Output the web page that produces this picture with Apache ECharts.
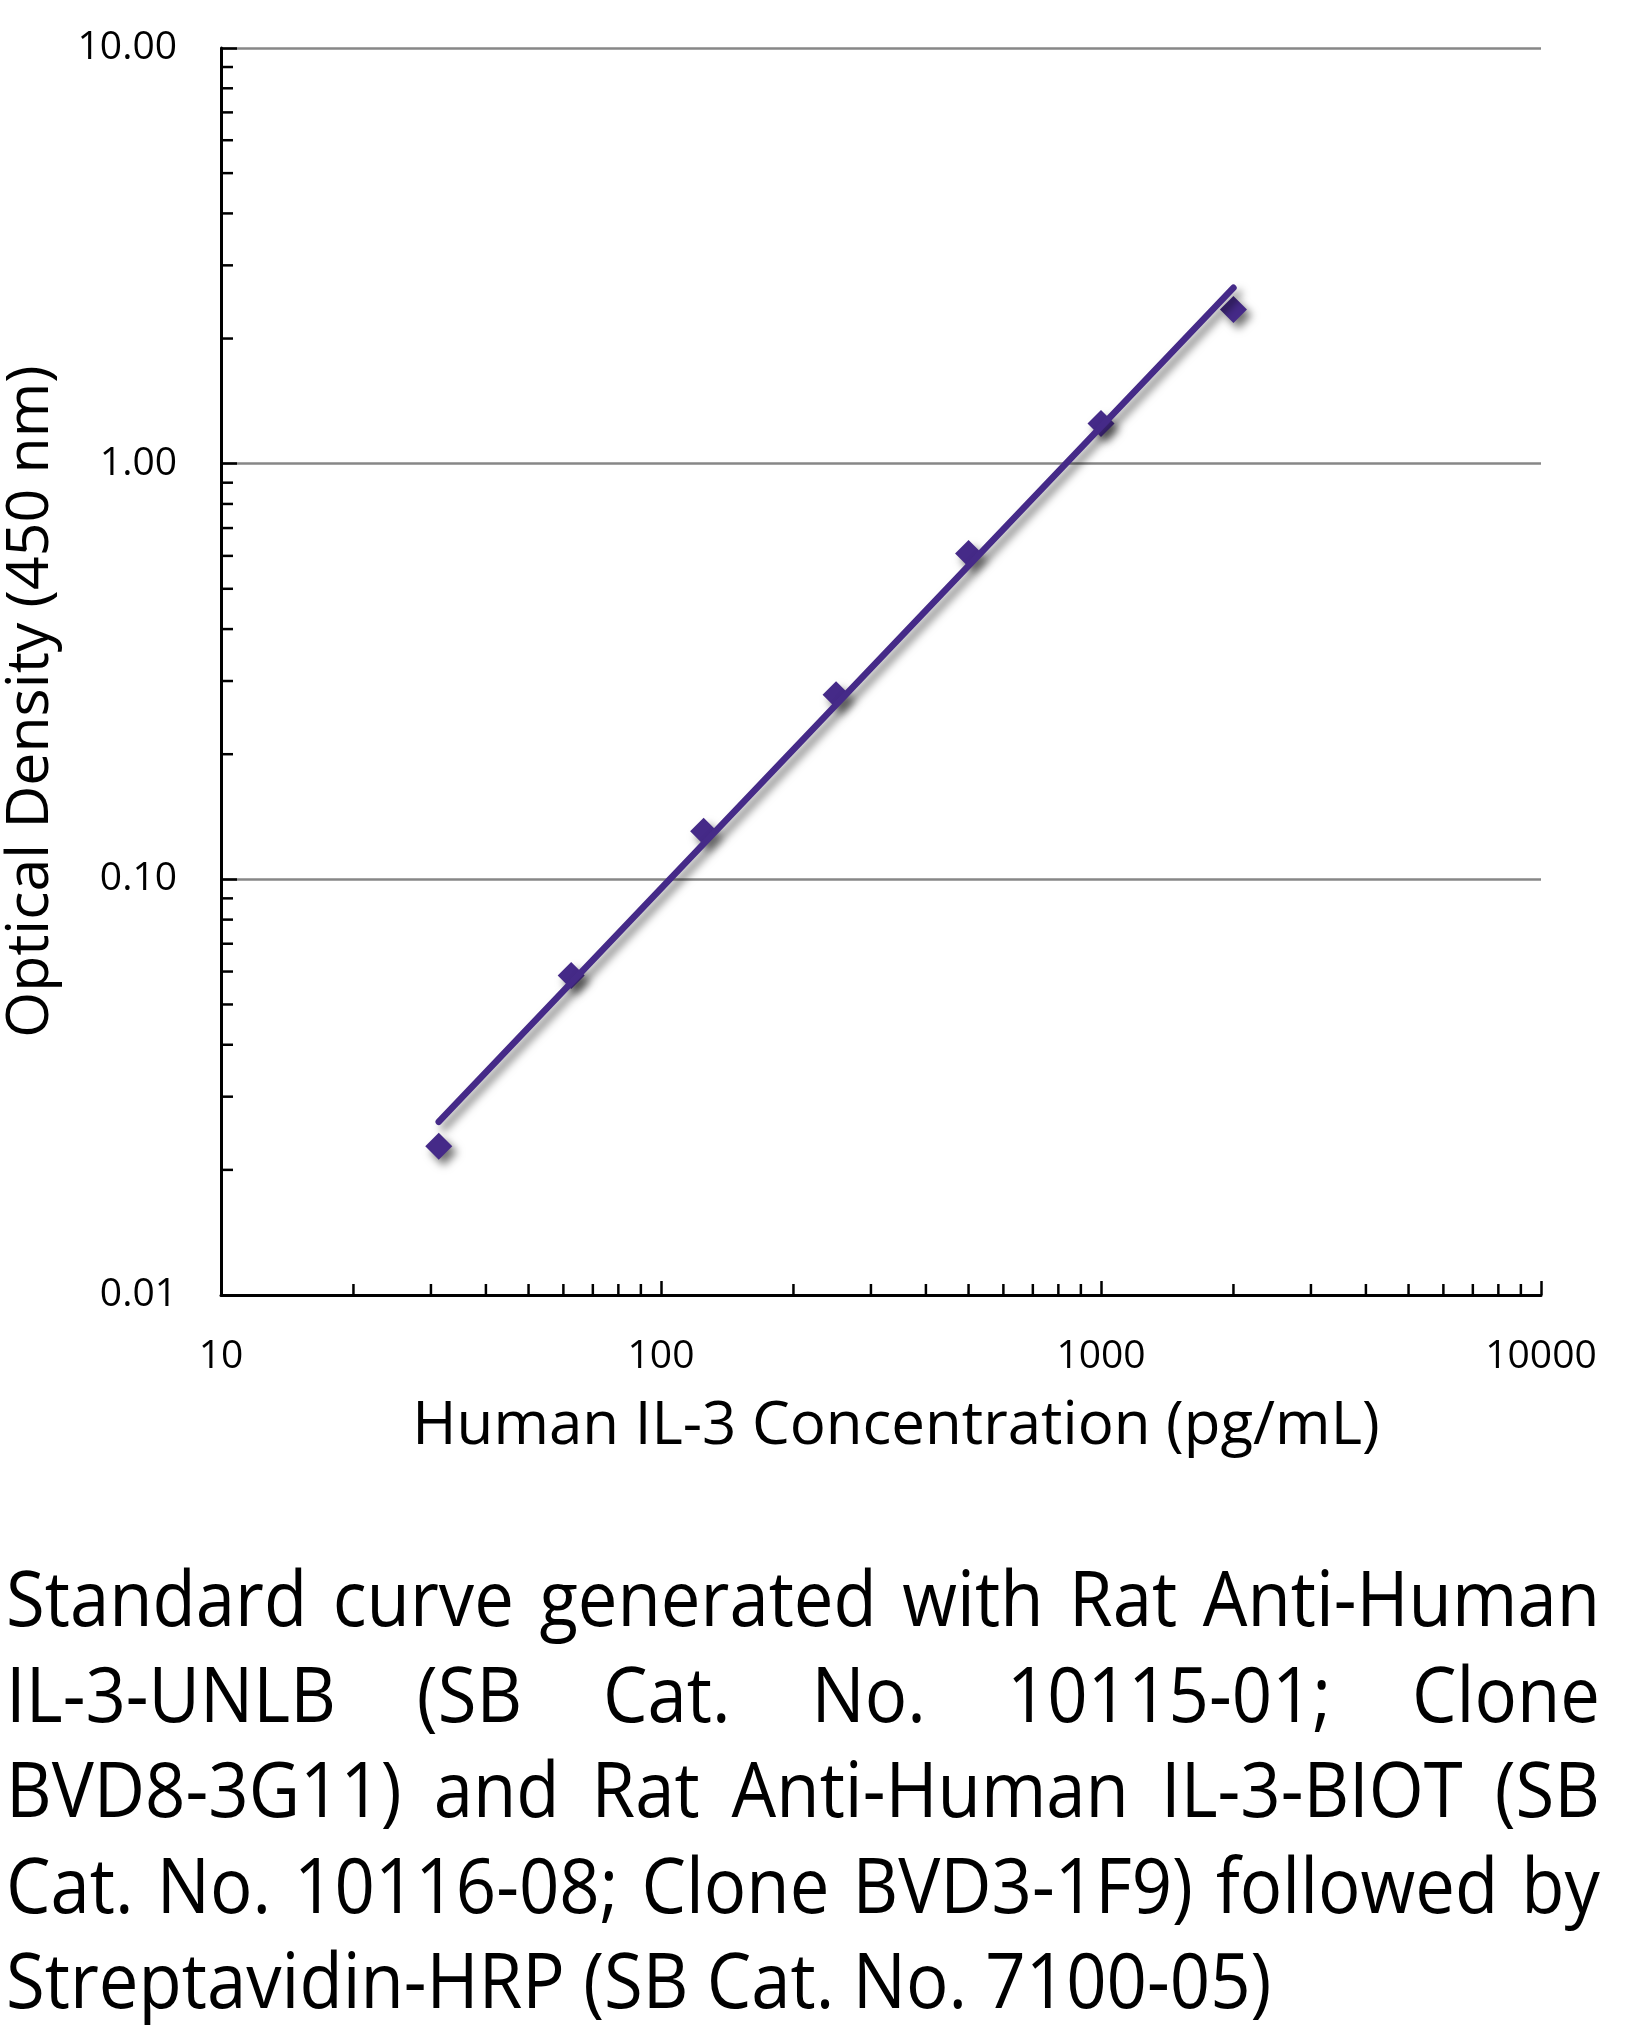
<!DOCTYPE html>
<html>
<head>
<meta charset="utf-8">
<script src="https://cdn.jsdelivr.net/npm/echarts@6/dist/echarts.min.js"></script>
<style>
  html, body { margin: 0; padding: 0; background: #fff; }
  #wrap { position: relative; width: 1646px; height: 2025px; overflow: hidden; background: #fff; }
  #chart { position: absolute; left: 0; top: 0; width: 1646px; height: 1500px; }
  #caption {
    position: absolute; left: 6px; top: 1549px;
    width: 1714px;
    transform: scaleX(0.93); transform-origin: 0 0;
    font-family: 'Open Sans', 'Noto Sans', sans-serif;
    font-size: 76px; line-height: 95.5px; color: #000;
  }
  #caption .ln { white-space: nowrap; text-align: justify; text-align-last: justify; }
  #caption .ln.last { text-align: left; text-align-last: left; }
</style>
</head>
<body>
<div id="wrap">
  <div id="chart"></div>
  <div id="caption">
    <div class="ln">Standard curve generated with Rat Anti-Human</div>
    <div class="ln">IL-3-UNLB (SB Cat. No. 10115-01; Clone</div>
    <div class="ln">BVD8-3G11) and Rat Anti-Human IL-3-BIOT (SB</div>
    <div class="ln">Cat. No. 10116-08; Clone BVD3-1F9) followed by</div>
    <div class="ln last">Streptavidin-HRP (SB Cat. No. 7100-05)</div>
  </div>
</div>
<script>
// ---- data ----
var concentrations = [31.25, 62.5, 125, 250, 500, 1000, 2000];
var opticalDensity = [0.0228, 0.0587, 0.1305, 0.278, 0.608, 1.25, 2.35];
var trendX = [31.25, 2000];
var trendY = [0.0261, 2.65];
var xMinorTicks = [20, 30, 40, 50, 60, 70, 80, 90, 200, 300, 400, 500, 600, 700, 800, 900, 2000, 3000, 4000, 5000, 6000, 7000, 8000, 9000];
var yMinorTicks = [0.02, 0.03, 0.04, 0.05, 0.06, 0.07, 0.08, 0.09, 0.2, 0.3, 0.4, 0.5, 0.6, 0.7, 0.8, 0.9, 2, 3, 4, 5, 6, 7, 8, 9];
var xTitle = 'Human IL-3 Concentration (pg/mL)';
var yTitle = 'Optical Density (450 nm)';

var FONT = "'Open Sans', 'Noto Sans', sans-serif";
var PURPLE = '#452a88';

var scatterData = concentrations.map(function (c, i) { return [c, opticalDensity[i]]; });
var trendData = trendX.map(function (x, i) { return [x, trendY[i]]; });

var chart = echarts.init(document.getElementById('chart'), null, { renderer: 'canvas' });

chart.setOption({
  animation: false,
  backgroundColor: '#fff',
  grid: { left: 221, right: 105, top: 48, bottom: 205, containLabel: false, outerBoundsMode: 'none' },
  xAxis: {
    type: 'log', logBase: 10, min: 10, max: 10000,
    name: xTitle, nameLocation: 'middle', nameGap: 102,
    nameTextStyle: { fontFamily: FONT, fontSize: 60, color: '#000', lineHeight: 60, padding: [0, 0, 0, 30] },
    axisLine: { show: true, lineStyle: { color: '#000', width: 3 } },
    axisTick: { show: true, inside: true, length: 14, lineStyle: { color: '#000', width: 2.5 } },
    axisLabel: {
      margin: 42, fontFamily: FONT, fontSize: 39, lineHeight: 39, color: '#000',
      formatter: function (v) { return String(Math.round(v)); }
    },
    splitLine: { show: false }
  },
  yAxis: {
    type: 'log', logBase: 10, min: 0.01, max: 10,
    name: yTitle, nameLocation: 'middle', nameGap: 146, nameRotate: 90,
    nameTextStyle: { fontFamily: FONT, fontSize: 59, color: '#000', lineHeight: 70, padding: [0, 60, 0, 0] },
    axisLine: { show: true, lineStyle: { color: '#000', width: 3 } },
    axisTick: { show: true, inside: true, length: 16, lineStyle: { color: '#000', width: 2.5 } },
    axisLabel: {
      margin: 44, fontFamily: FONT, fontSize: 39, color: '#000',
      formatter: function (v) { return Number(v).toFixed(2); }
    },
    splitLine: { show: true, lineStyle: { color: '#878787', width: 2.5 } }
  },
  series: [
    {
      type: 'custom', name: 'xMinor', silent: true, clip: false, z: 1,
      data: xMinorTicks.map(function (v) { return [v, 0.01]; }),
      renderItem: function (params, api) {
        var p = api.coord([api.value(0), api.value(1)]);
        return { type: 'line', shape: { x1: p[0], y1: p[1], x2: p[0], y2: p[1] - 11 },
                 style: { stroke: '#000', lineWidth: 2.5 } };
      }
    },
    {
      type: 'custom', name: 'yMinor', silent: true, clip: false, z: 1,
      data: yMinorTicks.map(function (v) { return [10, v]; }),
      renderItem: function (params, api) {
        var p = api.coord([api.value(0), api.value(1)]);
        return { type: 'line', shape: { x1: p[0], y1: p[1], x2: p[0] + 12, y2: p[1] },
                 style: { stroke: '#000', lineWidth: 2.5 } };
      }
    },
    {
      type: 'scatter', name: 'OD', data: scatterData, z: 3,
      symbol: 'diamond', symbolSize: 27,
      itemStyle: { color: PURPLE, opacity: 1, shadowColor: 'rgba(0,0,0,0.55)', shadowBlur: 9, shadowOffsetX: 5, shadowOffsetY: 6 }
    },
    {
      type: 'line', name: 'Trend', data: trendData, z: 4,
      symbol: 'none', smooth: false,
      lineStyle: { color: PURPLE, width: 6.5, cap: 'round',
                   shadowColor: 'rgba(0,0,0,0.5)', shadowBlur: 9, shadowOffsetX: 5, shadowOffsetY: 6 }
    }
  ]
});
</script>
</body>
</html>
